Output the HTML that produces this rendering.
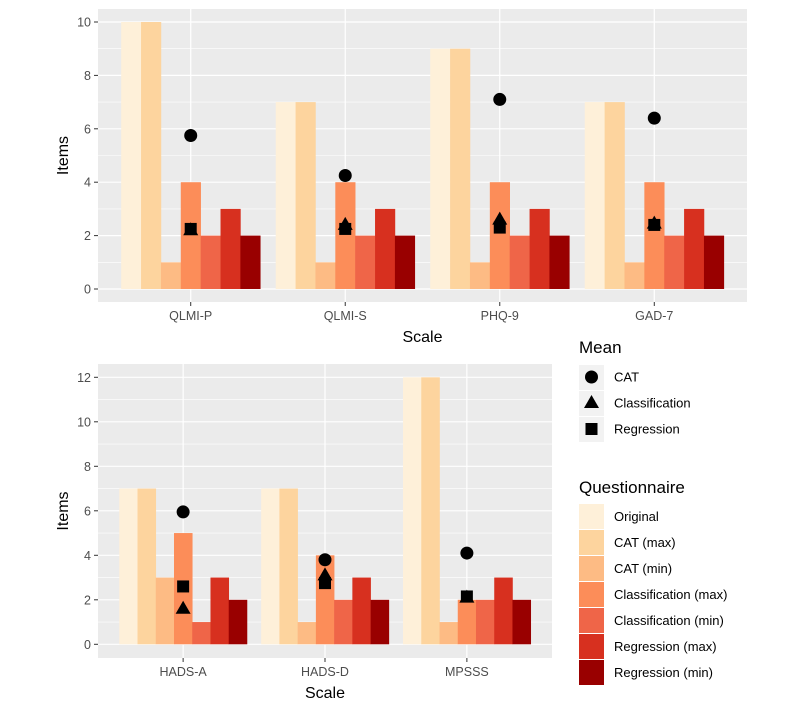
<!DOCTYPE html>
<html><head><meta charset="utf-8"><style>
body{margin:0;background:#fff;}
svg text{font-family:"Liberation Sans",Arial,sans-serif;}
</style></head><body>
<svg id="c" width="800" height="711" viewBox="0 0 800 711" xmlns="http://www.w3.org/2000/svg"></svg>
<script>
const seriesNames=["Original","CAT (max)","CAT (min)","Classification (max)","Classification (min)","Regression (max)","Regression (min)"];
const colors=["#FEF0D9","#FDD49E","#FDBB84","#FC8D59","#EF6548","#D7301F","#990000"];
const topCats=["QLMI-P","QLMI-S","PHQ-9","GAD-7"];
const topBars=[[10,10,1,4,2,3,2],[7,7,1,4,2,3,2],[9,9,1,4,2,3,2],[7,7,1,4,2,3,2]];
const topCAT=[5.75,4.25,7.1,6.4];
const topClass=[2.2,2.4,2.6,2.45];
const topReg=[2.25,2.25,2.3,2.4];
const topTicks=[0,2,4,6,8,10];
const botCats=["HADS-A","HADS-D","MPSSS"];
const botBars=[[7,7,3,5,1,3,2],[7,7,1,4,2,3,2],[12,12,1,2,2,3,2]];
const botCAT=[5.95,3.8,4.1];
const botClass=[1.6,3.1,2.1];
const botReg=[2.6,2.75,2.15];
const botTicks=[0,2,4,6,8,10,12];

const NS="http://www.w3.org/2000/svg";
const svg=document.getElementById('c');
function mk(t,a,p){const e=document.createElementNS(NS,t);for(const k in a)e.setAttribute(k,a[k]);(p||svg).appendChild(e);return e;}

function panel(o){
  const g=mk('g',{});
  
  
  mk('rect',{x:o.L,y:o.T,width:o.R-o.L,height:o.B-o.T,fill:'#EBEBEB'},g);
  const n=o.cats.length;
  const step=(o.R-o.L)/(n+0.2);
  const xs=i=>o.L+step*(0.6+i);
  const ys=v=>o.y0+(o.y1-o.y0)*v/o.vmax;
  const maxT=o.ticks[o.ticks.length-1];
  // minor grid
  for(let i=0;i<o.ticks.length;i++){
    const m=o.ticks[i]+1;
    if(m<=maxT+1){const y=ys(m);if(y>o.T&&y<o.B)mk('line',{x1:o.L,x2:o.R,y1:y,y2:y,stroke:'#fff','stroke-width':0.6},g);}
  }
  mk('line',{x1:o.L,x2:o.R,y1:ys(-1),y2:ys(-1),stroke:'#fff','stroke-width':0.6},g);
  o.ticks.forEach(t=>{
    const y=ys(t);
    const l=mk('line',{x1:o.L,x2:o.R,y1:y,y2:y,stroke:'#fff','stroke-width':1.2},g);
    
    
    mk('line',{x1:o.L-4,x2:o.L,y1:y,y2:y,stroke:'#333','stroke-width':1},g);
    const tx=mk('text',{x:o.L-7,y:y+4.5,'text-anchor':'end','font-size':12.5,fill:'#4D4D4D'},g);
    tx.textContent=t;
    
    
  });
  o.cats.forEach((c,i)=>{
    const x=xs(i);
    mk('line',{x1:x,x2:x,y1:o.T,y2:o.B,stroke:'#fff','stroke-width':1.2},g);
    mk('line',{x1:x,x2:x,y1:o.B,y2:o.B+4,stroke:'#333','stroke-width':1},g);
    const tx=mk('text',{x:x,y:o.B+18,'text-anchor':'middle','font-size':12.5,fill:'#4D4D4D'},g);
    tx.textContent=c;
    
    
    const bw=step*0.9/7;
    o.bars[i].forEach((v,j)=>{
      const bx=x-step*0.45+j*bw;
      const r=mk('rect',{x:bx,y:ys(v),width:bw+0.3,height:ys(0)-ys(v),fill:colors[j]},g);
      
      
    });
    const yc=ys(o.cat[i]);
    const ci=mk('circle',{cx:x,cy:yc,r:6.5,fill:'#000'},g);
    
    
    const yr=ys(o.reg[i]);
    const sq=mk('rect',{x:x-6,y:yr-6,width:12,height:12,fill:'#000'},g);
    
    
    const yt=ys(o.cls[i]);
    const tr=mk('polygon',{points:`${x},${yt-8} ${x+7.5},${yt+5} ${x-7.5},${yt+5}`,fill:'#000'},g);
    
    
  });
  const xt=mk('text',{x:(o.L+o.R)/2,y:o.B+40,'text-anchor':'middle','font-size':16,fill:'#000'},g);
  xt.textContent='Scale';
  
  
  const yc=(o.T+o.B)/2;
  const yt=mk('text',{x:68,y:yc,'text-anchor':'middle','font-size':16,fill:'#000',transform:`rotate(-90 68 ${yc})`},g);
  yt.textContent='Items';
  
  
}
panel({name:'top-panel',L:98,R:747,T:9,B:302,y0:289,y1:22,vmax:10,cats:topCats,bars:topBars,cat:topCAT,cls:topClass,reg:topReg,ticks:topTicks});
panel({name:'bottom-panel',L:98,R:552,T:364,B:658,y0:644.3,y1:377.3,vmax:12,cats:botCats,bars:botBars,cat:botCAT,cls:botClass,reg:botReg,ticks:botTicks});

// legends
const lg=mk('g',{});


let t=mk('text',{x:579,y:353,'font-size':17,fill:'#000'},lg);t.textContent='Mean';
const meanLabels=["CAT","Classification","Regression"];
meanLabels.forEach((m,i)=>{
  const cy=377+i*26;
  mk('rect',{x:579,y:cy-12,width:25,height:25,fill:'#F2F2F2'},lg);
  if(i==0)mk('circle',{cx:591.5,cy:cy,r:6.5,fill:'#000'},lg);
  if(i==1)mk('polygon',{points:`591.5,${cy-8} 599,${cy+5} 584,${cy+5}`,fill:'#000'},lg);
  if(i==2)mk('rect',{x:585.5,y:cy-6,width:12,height:12,fill:'#000'},lg);
  const tx=mk('text',{x:614,y:cy+4.5,'font-size':13,fill:'#000'},lg);tx.textContent=m;
  
  
});
t=mk('text',{x:579,y:493,'font-size':17,fill:'#000'},lg);t.textContent='Questionnaire';
seriesNames.forEach((s,i)=>{
  const y=504+i*26;
  mk('rect',{x:579,y:y,width:25,height:25,fill:colors[i]},lg);
  const tx=mk('text',{x:614,y:y+17,'font-size':13,fill:'#000'},lg);tx.textContent=s;
  
  
});
</script>
</body></html>
